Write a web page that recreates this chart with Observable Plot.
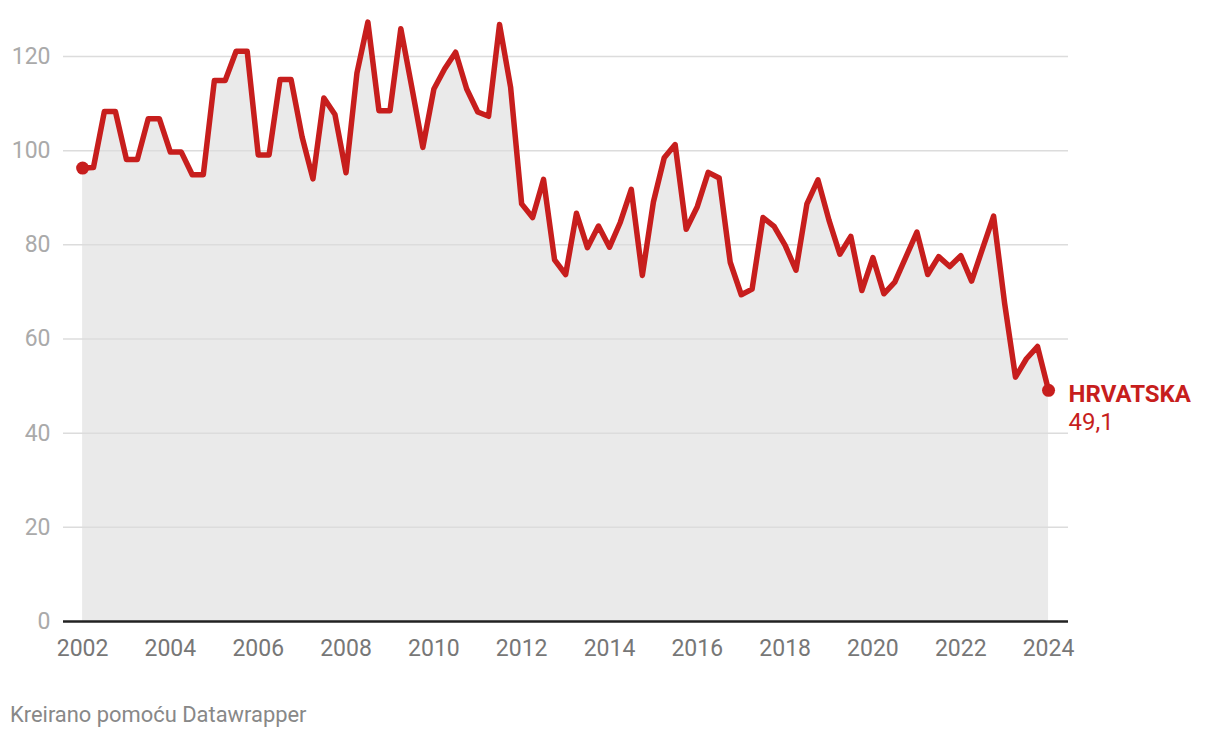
<!DOCTYPE html>
<html><head><meta charset="utf-8">
<script src="https://cdn.jsdelivr.net/npm/d3@7"></script>
<script src="https://cdn.jsdelivr.net/npm/@observablehq/plot@0.6"></script>
<style>
body{margin:0;background:#fff;font-family:Roboto,sans-serif;}
#chart{position:absolute;left:0;top:0;}
#footer{position:absolute;left:10px;top:702px;font-size:21.9px;color:#888;line-height:26px;font-family:Roboto,sans-serif;}
</style></head><body>
<div id="chart"></div>
<div id="footer">Kreirano pomoću Datawrapper</div>
<script>
const seriesName = "HRVATSKA";
const quarters = [
"2002-01","2002-04","2002-07","2002-10","2003-01","2003-04","2003-07","2003-10",
"2004-01","2004-04","2004-07","2004-10","2005-01","2005-04","2005-07","2005-10",
"2006-01","2006-04","2006-07","2006-10","2007-01","2007-04","2007-07","2007-10",
"2008-01","2008-04","2008-07","2008-10","2009-01","2009-04","2009-07","2009-10",
"2010-01","2010-04","2010-07","2010-10","2011-01","2011-04","2011-07","2011-10",
"2012-01","2012-04","2012-07","2012-10","2013-01","2013-04","2013-07","2013-10",
"2014-01","2014-04","2014-07","2014-10","2015-01","2015-04","2015-07","2015-10",
"2016-01","2016-04","2016-07","2016-10","2017-01","2017-04","2017-07","2017-10",
"2018-01","2018-04","2018-07","2018-10","2019-01","2019-04","2019-07","2019-10",
"2020-01","2020-04","2020-07","2020-10","2021-01","2021-04","2021-07","2021-10",
"2022-01","2022-04","2022-07","2022-10","2023-01","2023-04","2023-07","2023-10",
"2024-01"];
const values = [
96.3,96.4,108.3,108.3,98.1,98.1,106.8,106.8,
99.7,99.7,94.9,94.9,114.9,114.9,121.1,121.1,
99.1,99.1,115.1,115.1,102.9,94.0,111.2,107.7,
95.3,116.5,127.3,108.5,108.5,125.9,113.5,100.7,
113.1,117.4,120.9,113.1,108.2,107.3,126.8,113.5,
88.7,85.8,93.9,76.8,73.7,86.7,79.4,84.0,
79.5,84.8,91.8,73.5,89.1,98.5,101.3,83.3,
88.1,95.4,94.2,76.3,69.4,70.6,85.8,83.9,
79.9,74.6,88.7,93.8,85.2,78.0,81.8,70.3,
77.3,69.6,72.1,77.4,82.7,73.7,77.5,75.4,
77.7,72.3,79.2,86.1,67.5,51.9,55.8,58.4,
49.1];
const xTickYears = [2002,2004,2006,2008,2010,2012,2014,2016,2018,2020,2022,2024];
const yTicks = [0,20,40,60,80,100,120];

const parse = d3.utcParse("%Y-%m");
const data = quarters.map((q,i)=>({date: parse(q), value: values[i]}));
const xTicks = xTickYears.map(y=>new Date(Date.UTC(y,0,1)));
const ends = [data[0], data[data.length-1]];
const last = data[data.length-1];
const red = "#c71e1d";

const chart = Plot.plot({
  width: 1220, height: 680,
  marginLeft: 63, marginRight: 152, marginTop: 56, marginBottom: 59,
  style: {fontFamily: "Roboto", fontSize: "23px", background: "#fff", overflow: "visible"},
  x: {type: "utc", domain: [new Date(Date.UTC(2001,6,26)), new Date(Date.UTC(2024,5,15))], label: null},
  y: {domain: [0,120], label: null},
  marks: [
    Plot.areaY(data, {x: "date", y: "value", fill: "#eaeaea", curve: "linear"}),
    Plot.gridY(yTicks.filter(d=>d>0), {stroke: "#dcdcdc", strokeOpacity: 1, strokeWidth: 1.5}),
    Plot.ruleY([0], {stroke: "#222", strokeWidth: 2.5}),
    Plot.axisY(yTicks, {tickSize: 0, tickPadding: 13, fill: "#aaa", fontSize: 23, label: null}),
    Plot.axisX(xTicks, {tickSize: 0, tickPadding: 18, fill: "#777", fontSize: 23, label: null, tickFormat: d3.utcFormat("%Y")}),
    Plot.lineY(data, {x: "date", y: "value", stroke: red, strokeWidth: 5.5, strokeLinejoin: "round"}),
    Plot.dot(ends, {x: "date", y: "value", fill: red, r: 6.5}),
    Plot.text([last], {x: "date", y: "value", text: () => seriesName, textAnchor: "start", dx: 20, dy: 4, fill: red, fontWeight: "bold", fontSize: 24}),
    Plot.text([last], {x: "date", y: "value", text: d => String(d.value).replace(".", ","), textAnchor: "start", dx: 20, dy: 32, fill: red, fontSize: 24})
  ]
});
document.getElementById("chart").appendChild(chart);
</script>
</body></html>
